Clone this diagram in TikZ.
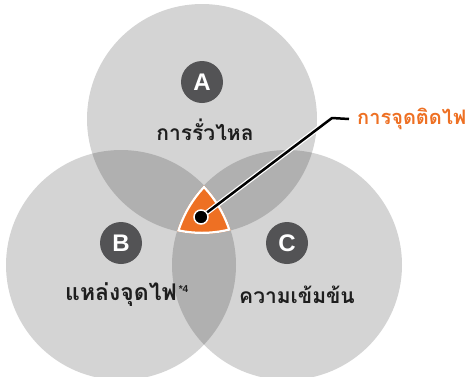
\documentclass[tikz,border=0pt]{standalone}
\usepackage{fontspec}
\setmainfont{Liberation Sans}
\newfontfamily\thaifont[Script=Thai]{Loma}
\definecolor{orng}{HTML}{EE7023}
\definecolor{badgegray}{HTML}{535355}
\definecolor{txt}{HTML}{1E1E1E}
\begin{document}
\begin{tikzpicture}[x=1pt,y=-1pt,
  venn/.style={fill=black,fill opacity=0.17},
  badge/.style={circle,fill=badgegray,minimum size=42pt,inner sep=0pt,text=white,font=\fontsize{24}{24}\selectfont\bfseries},
  lbl/.style={font=\thaifont\bfseries\fontsize{21}{24}\selectfont,text=txt,inner sep=0pt},
  orlbl/.style={font=\thaifont\bfseries\fontsize{20}{24}\selectfont,text=orng,inner sep=0pt}]
\useasboundingbox (0,0) rectangle (474,376);
\fill[white] (0,0) rectangle (474,376);
\coordinate (cA) at (202,119);
\coordinate (cB) at (121,265);
\coordinate (cC) at (287,265);
\fill[venn] (cA) circle (115pt);
\fill[venn] (cB) circle (115pt);
\fill[venn] (cC) circle (115pt);
\begin{scope}
  \clip (cA) circle (115pt);
  \clip (cB) circle (115pt);
  \clip (cC) circle (115pt);
  \fill[orng] (cC) circle (115pt);
  \draw[white,line width=4.5pt] (cA) circle (115pt) (cB) circle (115pt) (cC) circle (115pt);
\end{scope}
% badges
\node[badge] (bA) at (202,82) {A};
\node[badge] (bB) at (121,243) {B};
\node[badge] (bC) at (287,243) {C};
% labels
\node[lbl] (tA) at (205,130) {การรั่วไหล};
\node[lbl,anchor=west] (tB) at (65,295) {\fontsize{23}{24}\selectfont แหล่งจุดไฟ\hspace{2pt}\raisebox{8pt}{\normalfont\fontsize{10}{10}\selectfont\bfseries *4}};
\node[lbl] (tC) at (297,295) {ความเข้มข้น};
% callout
\node[orlbl,anchor=west] (fire) at (357,119) {การจุดติดไฟ};
\coordinate (dot) at (201,217);
\coordinate (elbow) at (332,118);
\draw[white,line width=5pt,line join=round] (dot) -- (elbow) -- ([xshift=-8pt]fire.west);
\draw[black,line width=2.5pt,line join=round] (dot) -- (elbow) -- ([xshift=-8pt]fire.west);
\node[circle,fill=black,draw=white,line width=1.5pt,minimum size=14pt,inner sep=0pt] (dotn) at (dot) {};
\end{tikzpicture}
\end{document}
